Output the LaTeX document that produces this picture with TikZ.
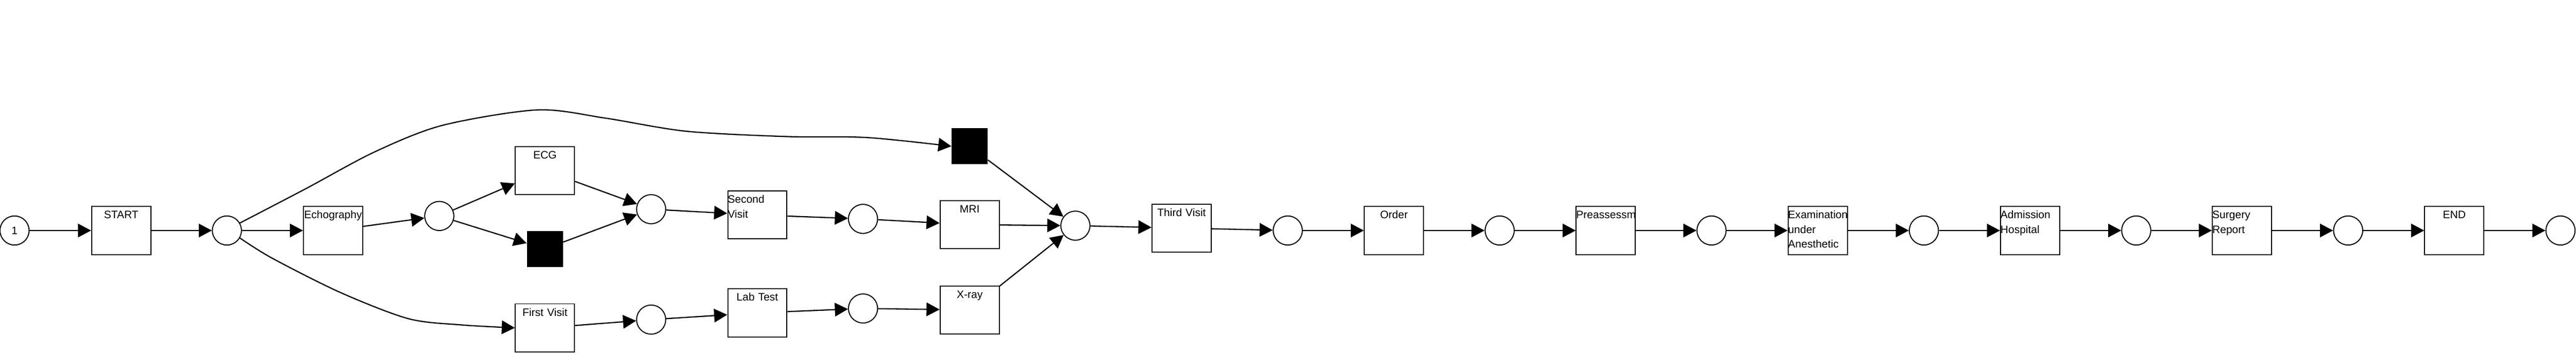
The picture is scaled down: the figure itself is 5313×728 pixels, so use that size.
\documentclass[tikz,border=0pt]{standalone}
\usepackage{fontspec}
\setmainfont{Liberation Sans}
\usetikzlibrary{arrows.meta,positioning}
\newcommand{\lblfont}{\fontsize{6.35pt}{8.54pt}\selectfont}
\tikzset{
  place/.style={circle,draw,line width=0.6pt,minimum size=0.6cm,inner sep=0pt,font=\lblfont},
  trans/.style={rectangle,draw,line width=0.6pt,inner sep=0pt,text width=1.22cm,
    text height=0.25cm,text depth=0.74cm,align=center,font=\lblfont},
  transl/.style={trans,align=left},
  silent/.style={rectangle,fill=black,minimum size=0.74cm,inner sep=0pt},
  flow/.style={->,line width=0.7pt}
}
\begin{document}
\begin{tikzpicture}[x=0.01cm,y=-0.01cm,>={Triangle[length=0.27cm,width=0.28cm]}]
 \useasboundingbox (0,0) rectangle (5313,728);
 % start and split
 \node[place] (p1) at (30,476) {1};
 \node[trans] (start) at (250,476) {START};
 \node[place] (p2) at (468,476) {};
 \node[trans] (echo) at (687,476) {Echography};
 \node[place] (p3) at (906,446) {};
 \node[trans] (ecg) at (1124,352) {ECG};
 \node[silent] (skip1) at (1124,514) {};
 \node[trans] (first) at (1124,677) {First Visit};
 \node[place] (p4) at (1343,432) {};
 \node[place] (p7) at (1343,660) {};
 \node[transl] (second) at (1562,444) {Second\\Visit};
 \node[trans] (lab) at (1562,646) {Lab Test};
 \node[place] (p5) at (1780,452) {};
 \node[place] (p8) at (1780,637) {};
 \node[silent] (skip2) at (2000,302) {};
 \node[trans] (mri) at (2000,464) {MRI};
 \node[trans] (xray) at (2000,640) {X-ray};
 \node[place] (p6) at (2218,466) {};
 \node[trans] (third) at (2437,471) {Third Visit};
 % main chain
 \foreach \n/\x in {p9/2656,p10/3093,p11/3530,p12/3968,p13/4406,p14/4843,p15/5281}
    \node[place] (\n) at (\x,476) {};
 \foreach \n/\x/\t in {order/2875/Order,pre/3312/Preassessm,endt/5062/END}
    \node[trans] (\n) at (\x,476) {\t};
 \foreach \n/\x/\t in {exam/3749/{Examination\\under\\Anesthetic},adm/4187/{Admission\\Hospital},surg/4624/{Surgery\\Report}}
    \node[transl] (\n) at (\x,476) {\t};
 % arcs
 \foreach \a/\b in {p1/start,start/p2,p2/echo,echo/p3,p3/ecg,p3/skip1,ecg/p4,skip1/p4,
    p4/second,second/p5,p5/mri,mri/p6,skip2/p6,xray/p6,first/p7,p7/lab,lab/p8,p8/xray,
    p6/third,third/p9,p9/order,order/p10,p10/pre,pre/p11,p11/exam,exam/p12,p12/adm,
    adm/p13,p13/surg,surg/p14,p14/endt,endt/p15}
    \draw[flow] (\a) -- (\b);
 \draw[flow] plot[smooth] coordinates{%
 (p2.30)(632,389)(772,314)(912,259)(1108,227)(1249,244)(1415,271)(1622,282)(1788,284)(skip2.west)};
 \draw[flow] plot[smooth] coordinates{%
 (p2.-30)(561,533)(702,604)(842,658)(952,671)(first.west)};
\end{tikzpicture}
\end{document}
